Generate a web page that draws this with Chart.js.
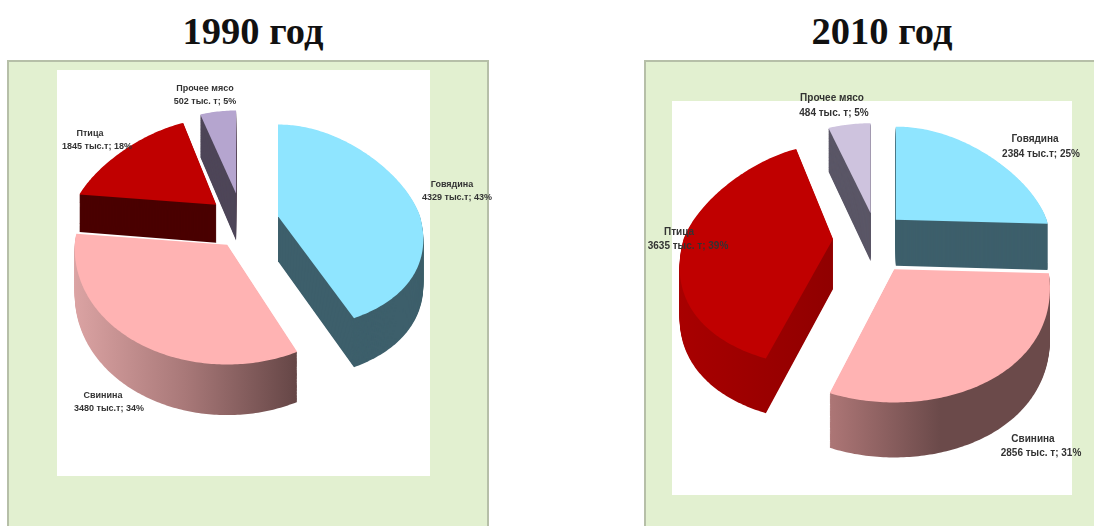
<!DOCTYPE html>
<html>
<head>
<meta charset="utf-8">
<script src="https://cdn.jsdelivr.net/npm/chart.js@4"></script>
<style>
    html, body { margin: 0; padding: 0; background: #fff; }
    body { position: relative; width: 1094px; height: 526px; overflow: hidden; }
    .title { position: absolute; top: 9px; margin: 0; font: bold 38.5px "Liberation Serif", serif; color: #111; transform: translateX(-50%); white-space: nowrap; }
    .panel { position: absolute; box-sizing: border-box; background: #e2f0d0; border: solid #b6bfa8; }
    .sheet { position: absolute; background: #fff; }
    canvas { position: absolute; left: 0; top: 0; }
</style>
</head>
<body>
<h2 class="title" style="left:253px">1990 год</h2>
<h2 class="title" style="left:882px">2010 год</h2>

<div class="panel" style="left:7px; top:60px; width:482px; height:480px; border-width:2px"></div>
<div class="sheet" style="left:57px; top:70px; width:373px; height:406px"></div>
<div class="panel" style="left:644px; top:60px; width:460px; height:480px; border-width:2px"></div>
<div class="sheet" style="left:672px; top:101px; width:400px; height:394px"></div>

<canvas id="pie1990" width="1094" height="526"></canvas>
<canvas id="pie2010" width="1094" height="526"></canvas>

<script>
const categories = ['Говядина', 'Свинина', 'Птица', 'Прочее мясо'];

const values1990 = [4329, 3480, 1845, 502];
const percents1990 = [43, 34, 18, 5];
const units1990 = ['тыс.т', 'тыс.т', 'тыс.т', 'тыс. т'];

const values2010 = [2384, 2856, 3635, 484];
const percents2010 = [25, 31, 39, 5];
const units2010 = ['тыс.т', 'тыс. т', 'тыс. т', 'тыс. т'];

const style1990 = {
    padding: { right: 612, bottom: 76 },
    radius: 148,
    offsets: [38, 24, 32, 32],
    widths: [0.96, 1.03, 0.96, 1],
    flares: [0.22, 0.03, 0.25, 0.22],
    tiltBack: [0.62, 0.62, 0.58, 0.56],
    tiltFront: [0.77, 0.81, 0.81, 0.81],
    depths: [45, 46, 38, 47],
    faces: ['#8fe5ff', '#ffb3b3', '#c00000', '#b5a5cf'],
    walls: [['#3d5f6b'], ['#dba3a3', '#a87878', '#654646'], ['#4a0000'], ['#4e4658']],
    font: 'bold 9px "Liberation Sans", sans-serif',
    // [name x, name y, value x, value y]
    labels: [[452, 185, 457, 198], [103, 396, 109, 409], [90, 134, 97, 147], [205, 89, 205, 102]]
};

const style2010 = {
    padding: { left: 656, bottom: 46 },
    radius: 154,
    offsets: [29, 35, 42, 27],
    widths: [0.98, 1, 0.97, 1],
    flares: [0.22, 0.15, 0.24, 0.15],
    tiltBack: [0.605, 0.61, 0.617, 0.585],
    tiltFront: [0.865, 0.865, 0.835, 0.865],
    depths: [46, 50, 50, 48],
    faces: ['#8fe5ff', '#ffb3b3', '#c00000', '#cec3de'],
    walls: [['#3d5f6b'], ['#ad7676', '#6b4a4a', '#6b4a4a'], ['#a80000', '#900000'], ['#5a5666']],
    font: 'bold 10px "Liberation Sans", sans-serif',
    labels: [[1035, 139, 1041, 154], [1033, 439, 1041, 453], [679, 232, 688, 246], [832, 98, 834, 113]]
};

// outline of one slice on the tilted disc: the tip, then points along the rim
function sliceOutline(arc, style, index) {
    const mid = (arc.startAngle + arc.endAngle) / 2;
    const tipX = arc.x + Math.cos(mid) * arc.options.offset;
    const tipY = arc.y + Math.sin(mid) * arc.options.offset;
    const points = [{ x: tipX, y: tipY, v: 0 }];

    const steps = Math.ceil((arc.endAngle - arc.startAngle) * 60);
    for (let i = 0; i <= steps; i++) {
        const angle = arc.startAngle + (arc.endAngle - arc.startAngle) * i / steps;
        const u = Math.cos(angle);
        const v = Math.sin(angle);
        const tilt = v < 0 ? style.tiltBack[index] : style.tiltFront[index];
        points.push({
            x: tipX + arc.outerRadius * style.widths[index] * u * (1 + style.flares[index] * v),
            y: tipY + arc.outerRadius * tilt * v,
            v: v
        });
    }
    return points;
}

function fillOutline(ctx, points, drop) {
    ctx.beginPath();
    points.forEach((p, i) => {
        const y = p.y + drop * (1 + 0.1 * p.v);
        if (i === 0) ctx.moveTo(p.x, y);
        else ctx.lineTo(p.x, y);
    });
    ctx.closePath();
    ctx.fill();
}

function wallFill(ctx, points, stops) {
    if (stops.length === 1) return stops[0];
    const xs = points.map(p => p.x);
    const gradient = ctx.createLinearGradient(Math.min(...xs), 0, Math.max(...xs), 0);
    stops.forEach((color, i) => gradient.addColorStop(i / (stops.length - 1), color));
    return gradient;
}

const tiltedPie = {
    id: 'tiltedPie',
    beforeDatasetDraw() {
        return false;
    },
    afterDatasetsDraw(chart, args, pluginOptions) {
        const { ctx } = chart;
        const style = pluginOptions.style;
        const arcs = chart.getDatasetMeta(0).data;

        // far slices first so the near ones sit on top
        const order = arcs.map((arc, index) => index).sort((a, b) => {
            const midA = (arcs[a].startAngle + arcs[a].endAngle) / 2;
            const midB = (arcs[b].startAngle + arcs[b].endAngle) / 2;
            return Math.sin(midA) - Math.sin(midB);
        });

        ctx.save();
        order.forEach(index => {
            const arc = arcs[index];
            const points = sliceOutline(arc, style, index);
            ctx.fillStyle = wallFill(ctx, points, style.walls[index]);
            for (let drop = style.depths[index]; drop > 0; drop -= 1) {
                fillOutline(ctx, points, drop);
            }
            ctx.fillStyle = arc.options.backgroundColor;
            fillOutline(ctx, points, 0);
        });

        ctx.font = style.font;
        ctx.fillStyle = '#333';
        ctx.textAlign = 'center';
        ctx.textBaseline = 'middle';
        chart.data.labels.forEach((name, index) => {
            const at = style.labels[index];
            ctx.fillText(name, at[0], at[1]);
            ctx.fillText(pluginOptions.valueTexts[index], at[2], at[3]);
        });
        ctx.restore();
    }
};

function createPie(canvasId, values, percents, units, style) {
    const valueTexts = values.map((value, i) => `${value} ${units[i]}; ${percents[i]}%`);

    new Chart(document.getElementById(canvasId), {
        type: 'pie',
        data: {
            labels: categories,
            datasets: [{
                data: values,
                backgroundColor: style.faces,
                offset: style.offsets,
                borderWidth: 0,
                radius: style.radius
            }]
        },
        options: {
            responsive: false,
            animation: false,
            events: [],
            layout: { padding: style.padding },
            plugins: {
                legend: { display: false },
                tooltip: { enabled: false },
                tiltedPie: { style: style, valueTexts: valueTexts }
            }
        },
        plugins: [tiltedPie]
    });
}

createPie('pie1990', values1990, percents1990, units1990, style1990);
createPie('pie2010', values2010, percents2010, units2010, style2010);
</script>
</body>
</html>
